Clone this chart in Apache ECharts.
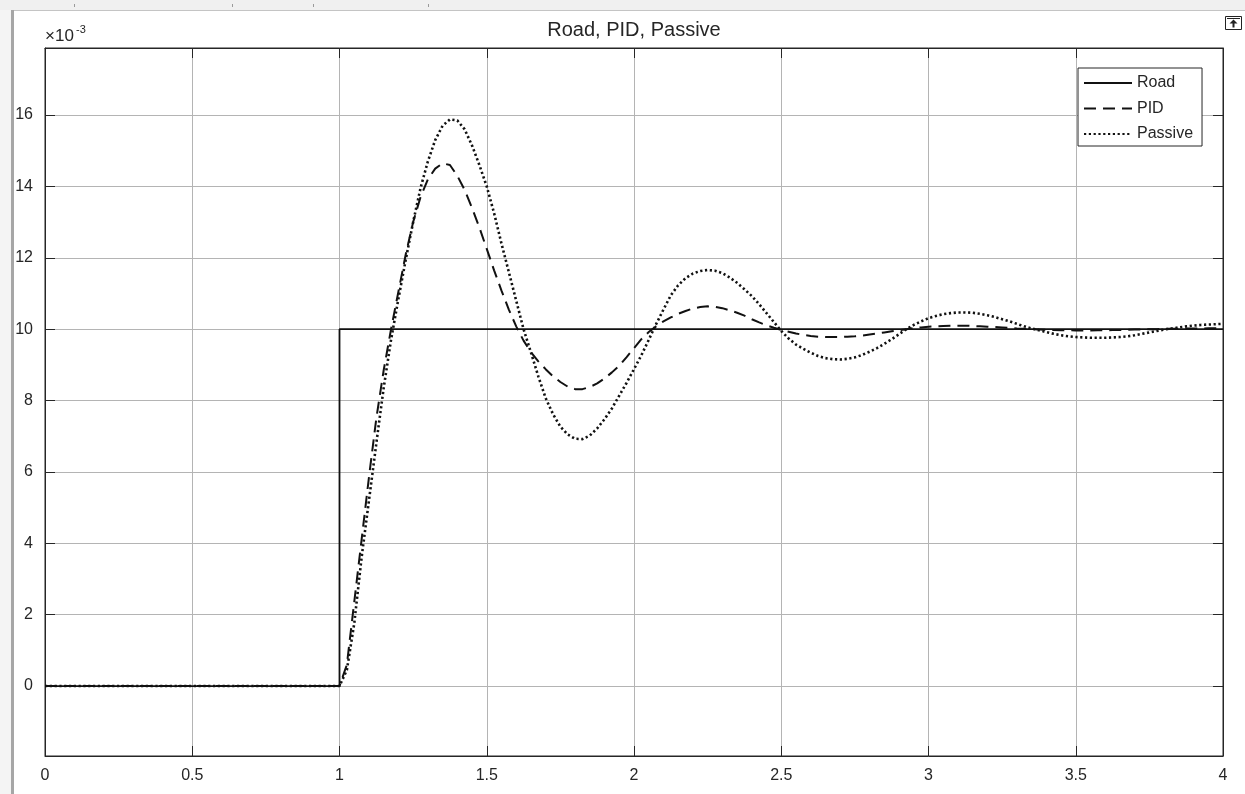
<!DOCTYPE html>
<html>
<head>
<meta charset="utf-8">
<script src="https://cdn.jsdelivr.net/npm/echarts@6/dist/echarts.min.js"></script>
<style>
html,body{margin:0;padding:0;background:#fff;}
#chart{width:1245px;height:794px;}
</style>
</head>
<body>
<div id="chart"></div>
<script>
// ---- data (values in units of 1e-3) ----
const titleText = 'Road, PID, Passive';
const seriesNames = ['Road', 'PID', 'Passive'];

const roadT = [0, 1, 1, 4];
const roadV = [0, 0, 10, 10];

const timeT = [0,
  1.000, 1.025, 1.050, 1.075, 1.100, 1.125, 1.150, 1.175,
  1.200, 1.225, 1.250, 1.275, 1.300, 1.325, 1.350, 1.375,
  1.400, 1.425, 1.450, 1.475, 1.500, 1.525, 1.550, 1.575,
  1.600, 1.625, 1.650, 1.675, 1.700, 1.725, 1.750, 1.775,
  1.800, 1.825, 1.850, 1.875, 1.900, 1.925, 1.950, 1.975,
  2.000, 2.025, 2.050, 2.075, 2.100, 2.125, 2.150, 2.175,
  2.200, 2.225, 2.250, 2.275, 2.300, 2.325, 2.350, 2.375,
  2.400, 2.425, 2.450, 2.475, 2.500, 2.525, 2.550, 2.575,
  2.600, 2.625, 2.650, 2.675, 2.700, 2.725, 2.750, 2.775,
  2.800, 2.825, 2.850, 2.875, 2.900, 2.925, 2.950, 2.975,
  3.000, 3.025, 3.050, 3.075, 3.100, 3.125, 3.150, 3.175,
  3.200, 3.225, 3.250, 3.275, 3.300, 3.325, 3.350, 3.375,
  3.400, 3.425, 3.450, 3.475, 3.500, 3.525, 3.550, 3.575,
  3.600, 3.625, 3.650, 3.675, 3.700, 3.725, 3.750, 3.775,
  3.800, 3.825, 3.850, 3.875, 3.900, 3.925, 3.950, 3.975,
  4.000];

const pidV = [0,
  0, 0.6, 2.35, 4.1, 5.85, 7.5, 8.85, 10.0,
  11.05, 12.1, 13.0, 13.7, 14.2, 14.5, 14.65, 14.6,
  14.3, 13.9, 13.4, 12.85, 12.25, 11.65, 11.08, 10.55,
  10.08, 9.68, 9.36, 9.1, 8.88, 8.68, 8.52, 8.39,
  8.32, 8.32, 8.38, 8.48, 8.62, 8.79, 8.98, 9.22,
  9.47, 9.72, 9.92, 10.08, 10.22, 10.33, 10.43, 10.51,
  10.58, 10.62, 10.64, 10.63, 10.59, 10.53, 10.46, 10.38,
  10.28, 10.19, 10.11, 10.04, 9.98, 9.93, 9.88, 9.84,
  9.81, 9.79, 9.78, 9.78, 9.78, 9.79, 9.8, 9.82,
  9.85, 9.88, 9.91, 9.94, 9.97, 10.0, 10.03, 10.05,
  10.07, 10.08, 10.09, 10.1, 10.1, 10.1, 10.09, 10.08,
  10.07, 10.06, 10.05, 10.04, 10.02, 10.01, 10.0, 9.99,
  9.98, 9.975, 9.97, 9.97, 9.965, 9.965, 9.965, 9.97,
  9.97, 9.975, 9.98, 9.985, 9.99, 9.995, 10.0, 10.0,
  10.01, 10.01, 10.015, 10.02, 10.02, 10.02, 10.025, 10.025,
  10.025];

const passiveV = [0,
  0, 0.45, 1.75, 3.6, 5.2, 6.8, 8.35, 9.7,
  10.85, 11.95, 13.0, 13.95, 14.7, 15.3, 15.7, 15.88,
  15.85, 15.6, 15.15, 14.6, 14.0, 13.25, 12.4, 11.6,
  10.8, 10.0, 9.35, 8.68, 8.07, 7.62, 7.27, 7.05,
  6.93, 6.92, 7.02, 7.22, 7.48, 7.78, 8.14, 8.5,
  8.88, 9.27, 9.7, 10.14, 10.55, 10.95, 11.23, 11.43,
  11.56, 11.63, 11.66, 11.64, 11.57, 11.45, 11.3, 11.12,
  10.93, 10.7, 10.45, 10.2, 9.95, 9.74, 9.57, 9.45,
  9.34, 9.25, 9.19, 9.16, 9.15, 9.17, 9.21, 9.28,
  9.37, 9.47, 9.59, 9.72, 9.86, 10.0, 10.12, 10.22,
  10.31, 10.37, 10.42, 10.45, 10.47, 10.47, 10.46, 10.43,
  10.39, 10.34, 10.28, 10.22, 10.15, 10.08, 10.02, 9.97,
  9.92, 9.87, 9.83, 9.8, 9.78, 9.77, 9.76, 9.76,
  9.76, 9.77, 9.78, 9.8, 9.83, 9.87, 9.91, 9.95,
  9.99, 10.02, 10.05, 10.08, 10.1, 10.12, 10.13, 10.14,
  10.15];

const xMin = 0, xMax = 4, xStep = 0.5;
const yMin = -1.96, yMax = 17.88;
const yExponent = '-3';

// ---- chart ----
const FONT = '"Liberation Sans", Arial, Helvetica, sans-serif';
const INK = '#262626';
const LINE = '#111111';
const GRIDC = '#b4b4b4';

function pairs(xs, ys) { return xs.map((x, i) => [x, ys[i]]); }

const chart = echarts.init(document.getElementById('chart'), null, { renderer: 'canvas' });

const yLabelFmt = v => (Math.abs(v / 2 - Math.round(v / 2)) < 1e-6 ? String(Math.round(v)) : '');

function axisLineStyle() { return { show: true, onZero: false, lineStyle: { color: INK, width: 1 } }; }
function tickStyle() { return { show: true, inside: true, length: 10, lineStyle: { color: INK } }; }

const option = {
  animation: false,
  backgroundColor: '#ffffff',
  textStyle: { fontFamily: FONT },
  grid: {
    left: 45, right: 22, top: 48, bottom: 38,
    show: true, borderColor: INK, borderWidth: 1, backgroundColor: '#ffffff'
  },
  legend: {
    data: seriesNames,
    orient: 'vertical',
    left: 1078, top: 68,
    itemWidth: 48, itemHeight: 16, itemGap: 9.5,
    padding: [7, 9, 4, 5],
    borderColor: INK, borderWidth: 1, borderRadius: 0,
    backgroundColor: '#ffffff',
    itemStyle: { opacity: 0, borderWidth: 0 },
    textStyle: { fontSize: 16, color: INK, fontFamily: FONT },
    selectedMode: false
  },
  xAxis: [
    {
      type: 'value', min: xMin, max: xMax, interval: xStep, position: 'bottom',
      axisLine: axisLineStyle(), axisTick: tickStyle(),
      axisLabel: { fontSize: 16, color: INK, margin: 12, fontFamily: FONT },
      splitLine: { show: true, lineStyle: { color: GRIDC, width: 1 } }
    },
    {
      type: 'value', min: xMin, max: xMax, interval: xStep, position: 'top',
      axisLine: axisLineStyle(), axisTick: tickStyle(),
      axisLabel: { show: false },
      splitLine: { show: false }
    }
  ],
  yAxis: [
    {
      type: 'value', min: yMin, max: yMax, splitNumber: 10, position: 'left',
      axisLine: axisLineStyle(), axisTick: tickStyle(),
      axisLabel: { fontSize: 16, color: INK, margin: 12, fontFamily: FONT,
                   showMinLabel: false, showMaxLabel: false, formatter: yLabelFmt },
      splitLine: { show: true, lineStyle: { color: GRIDC, width: 1 } }
    },
    {
      type: 'value', min: yMin, max: yMax, splitNumber: 10, position: 'right',
      axisLine: axisLineStyle(), axisTick: tickStyle(),
      axisLabel: { show: false },
      splitLine: { show: false }
    }
  ],
  series: [
    {
      name: seriesNames[0], type: 'line', xAxisIndex: 0, yAxisIndex: 0,
      data: pairs(roadT, roadV), symbol: 'none', z: 3,
      lineStyle: { color: LINE, width: 1.8, type: 'solid' },
      itemStyle: { color: LINE }
    },
    {
      name: seriesNames[1], type: 'line', xAxisIndex: 0, yAxisIndex: 0,
      data: pairs(timeT, pidV), symbol: 'none', z: 4,
      lineStyle: { color: LINE, width: 2, type: [12, 7] },
      itemStyle: { color: LINE }
    },
    {
      name: seriesNames[2], type: 'line', xAxisIndex: 0, yAxisIndex: 0,
      data: pairs(timeT, passiveV), symbol: 'none', z: 5,
      lineStyle: { color: LINE, width: 2.6, type: [2.2, 2.6] },
      itemStyle: { color: LINE }
    }
  ],
  graphic: [
    // window chrome
    { type: 'rect', left: 0, top: 0, shape: { width: 1245, height: 10 }, style: { fill: '#f0f0f0' }, silent: true, z: 0 },
    { type: 'rect', left: 14, top: 10, shape: { width: 1231, height: 1 }, style: { fill: '#c4c4c4' }, silent: true, z: 0 },
    { type: 'rect', left: 0, top: 10, shape: { width: 11, height: 784 }, style: { fill: '#f4f4f4' }, silent: true, z: 0 },
    { type: 'rect', left: 11, top: 10, shape: { width: 3, height: 784 }, style: { fill: '#a6a6a6' }, silent: true, z: 0 },
    { type: 'rect', left: 74, top: 4, shape: { width: 1, height: 3 }, style: { fill: '#9a9a9a' }, silent: true, z: 0 },
    { type: 'rect', left: 232, top: 4, shape: { width: 1, height: 3 }, style: { fill: '#9a9a9a' }, silent: true, z: 0 },
    { type: 'rect', left: 313, top: 4, shape: { width: 1, height: 3 }, style: { fill: '#9a9a9a' }, silent: true, z: 0 },
    { type: 'rect', left: 428, top: 4, shape: { width: 1, height: 3 }, style: { fill: '#9a9a9a' }, silent: true, z: 0 },
    // undock icon
    { type: 'rect', shape: { x: 1225.5, y: 16.5, width: 16, height: 13 }, style: { fill: '#ffffff', stroke: '#222', lineWidth: 1 }, silent: true, z: 10 },
    { type: 'line', shape: { x1: 1227, y1: 18.5, x2: 1240, y2: 18.5 }, style: { stroke: '#222', lineWidth: 1 }, silent: true, z: 10 },
    { type: 'polygon', shape: { points: [[1233.5, 19.5], [1229.5, 23.5], [1237.5, 23.5]] }, style: { fill: '#222' }, silent: true, z: 10 },
    { type: 'rect', shape: { x: 1232.5, y: 23, width: 2, height: 4.5 }, style: { fill: '#222' }, silent: true, z: 10 },
    // title
    { type: 'text', x: 634, y: 30, style: { text: titleText, fontSize: 20, fontFamily: FONT, fill: INK, align: 'center', verticalAlign: 'middle' }, z: 10 },
    // exponent label
    { type: 'text', x: 45, y: 36.5, style: { text: '×10', fontSize: 17, fontFamily: FONT, fill: INK, align: 'left', verticalAlign: 'middle' }, z: 10 },
    { type: 'text', x: 76, y: 30, style: { text: yExponent, fontSize: 11, fontFamily: FONT, fill: INK, align: 'left', verticalAlign: 'middle' }, z: 10 }
  ]
};

chart.setOption(option);
</script>
</body>
</html>
